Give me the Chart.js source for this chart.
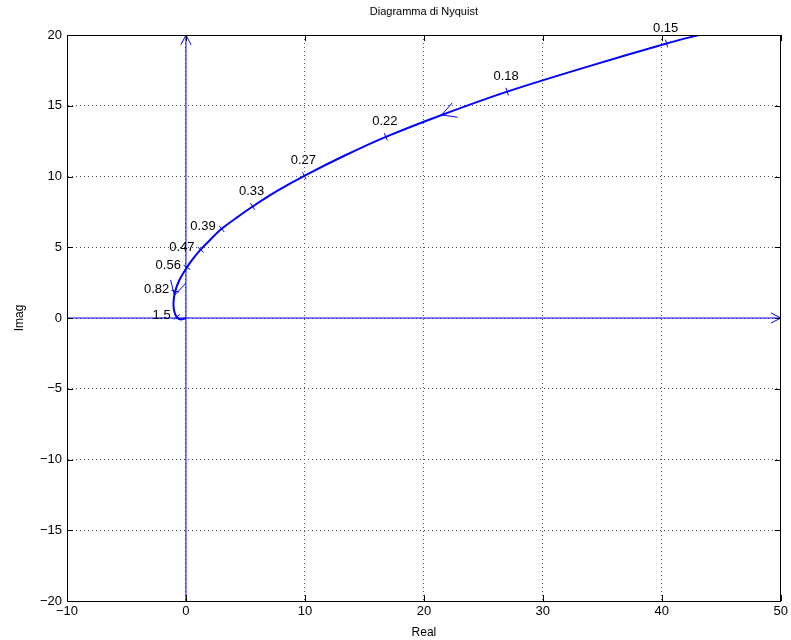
<!DOCTYPE html>
<html>
<head>
<meta charset="utf-8">
<script src="https://cdn.jsdelivr.net/npm/chart.js@4.4.0/dist/chart.umd.min.js"></script>
<style>
    body { margin: 0; background: #fff; }
    #wrap { width: 791px; height: 640px; }
</style>
</head>
<body>
<div id="wrap"><canvas id="nyquistChart"></canvas></div>
<script>
// Curva di Nyquist (da bassa ad alta frequenza)
const curveRe = [43.1, 40.4, 33.7, 27.0, 21.5, 16.8, 13.4, 9.95, 7.6, 5.6, 4.2, 3.0, 2.0, 1.23, 0.6, 0.08, -0.53, -0.9, -1.05, -0.97, -0.78, -0.45, 0];
const curveIm = [20.0, 19.4, 17.75, 16.0, 14.35, 12.8, 11.5, 10.05, 8.95, 7.88, 7.05, 6.3, 5.5, 4.83, 4.2, 3.58, 2.72, 1.9, 1.05, 0.42, 0.07, -0.1, 0];

// frequenze etichettate sulla curva
const freqLabels = ['0.15', '0.18', '0.22', '0.27', '0.33', '0.39', '0.47', '0.56', '0.82', '1.5'];
const freqRe = [40.4, 27.0, 16.8, 9.95, 5.6, 3.0, 1.23, 0.08, -0.9, -0.78];
const freqIm = [19.4, 16.0, 12.8, 10.05, 7.88, 6.3, 4.83, 3.58, 1.9, 0.07];

// frecce di direzione sulla curva
const arrowRe = [21.5, -0.97];
const arrowIm = [14.35, 1.6];

// tacche degli assi
const xTicks = [-10, 0, 10, 20, 30, 40, 50];
const yTicks = [-20, -15, -10, -5, 0, 5, 10, 15, 20];

const FONT = 'Liberation Sans, Arial, sans-serif';
const BLUE = '#0000ff';

const minus = v => String(v).replace('-', '\u2212');

// indice del punto della curva piu vicino
function nearestIndex(re, im) {
    let best = 0, bd = Infinity;
    for (let i = 0; i < curveRe.length; i++) {
        const d = (curveRe[i] - re) ** 2 + (curveIm[i] - im) ** 2;
        if (d < bd) { bd = d; best = i; }
    }
    return best;
}

const decor = {
    id: 'decor',
    afterDatasetsDraw(chart) {
        const { ctx, chartArea: a } = chart;
        const sx = chart.scales.x, sy = chart.scales.y;
        const px = (re, im) => [sx.getPixelForValue(re), sy.getPixelForValue(im)];

        function tangent(re, im) {
            const k = nearestIndex(re, im);
            const i0 = Math.max(0, k - 1), i1 = Math.min(curveRe.length - 1, k + 1);
            const p0 = px(curveRe[i0], curveIm[i0]), p1 = px(curveRe[i1], curveIm[i1]);
            const dx = p1[0] - p0[0], dy = p1[1] - p0[1], l = Math.hypot(dx, dy);
            return [dx / l, dy / l];
        }

        function arrowHead(tx, ty, bx, by, len, half) {
            ctx.beginPath();
            for (const s of [-1, 1]) {
                const c = Math.cos(s * half), n = Math.sin(s * half);
                const rx = bx * c - by * n, ry = bx * n + by * c;
                ctx.moveTo(tx, ty);
                ctx.lineTo(tx + rx * len, ty + ry * len);
            }
            ctx.stroke();
        }

        ctx.save();

        // titolo, centrato sull'area del grafico
        ctx.fillStyle = '#000';
        ctx.font = '11px ' + FONT;
        ctx.textAlign = 'center';
        ctx.textBaseline = 'middle';
        ctx.fillText('Diagramma di Nyquist', (a.left + a.right) / 2, 12);

        // tacche e etichette delle frequenze
        ctx.strokeStyle = BLUE;
        ctx.lineWidth = 1;
        ctx.font = '13px ' + FONT;
        freqLabels.forEach((lab, i) => {
            const [mx, my] = px(freqRe[i], freqIm[i]);
            const [tx, ty] = tangent(freqRe[i], freqIm[i]);
            ctx.beginPath();
            ctx.moveTo(mx - ty * 4, my + tx * 4);
            ctx.lineTo(mx + ty * 4, my - tx * 4);
            ctx.stroke();
            if (Math.abs(ty) < 0.6) {
                // tratto piatto: etichetta sopra
                ctx.textAlign = 'center';
                ctx.fillText(lab, mx - 1, my - 15);
            } else {
                // tratto ripido: etichetta a sinistra
                ctx.textAlign = 'right';
                ctx.fillText(lab, mx - 6, my - 2);
            }
        });

        // frecce sulla curva
        arrowRe.forEach((re, i) => {
            const [tx, ty] = px(re, arrowIm[i]);
            const [dx, dy] = tangent(re, arrowIm[i]);
            arrowHead(tx, ty, -dx, -dy, 16, 0.5);
        });

        // frecce degli assi
        const [ax, ay] = px(xTicks[xTicks.length - 1], 0);
        arrowHead(ax, ay, -1, 0, 11, 0.48);
        const [bx, by] = px(0, yTicks[yTicks.length - 1]);
        arrowHead(bx, by, 0, 1, 11, 0.48);

        // cornice e tacche interne
        ctx.strokeStyle = '#000';
        ctx.lineWidth = 1;
        ctx.strokeRect(Math.round(a.left) + 0.5, Math.round(a.top) + 0.5,
            Math.round(a.right - a.left) - 1, Math.round(a.bottom - a.top));
        ctx.beginPath();
        xTicks.forEach(v => {
            const p = Math.round(sx.getPixelForValue(v)) + 0.5;
            ctx.moveTo(p, a.bottom); ctx.lineTo(p, a.bottom - 6);
            ctx.moveTo(p, a.top); ctx.lineTo(p, a.top + 6);
        });
        yTicks.forEach(v => {
            const p = Math.round(sy.getPixelForValue(v)) + 0.5;
            ctx.moveTo(a.left, p); ctx.lineTo(a.left + 6, p);
            ctx.moveTo(a.right, p); ctx.lineTo(a.right - 6, p);
        });
        ctx.stroke();
        ctx.restore();
    }
};

const gridOpts = { color: '#555', lineWidth: 1, drawTicks: false };

new Chart(document.getElementById('nyquistChart'), {
    type: 'scatter',
    data: {
        datasets: [
            {
                data: curveRe.map((re, i) => ({ x: re, y: curveIm[i] })),
                showLine: true,
                borderColor: BLUE,
                borderWidth: 2,
                pointRadius: 0,
                tension: 0.3
            },
            {
                data: [{ x: xTicks[0], y: 0 }, { x: xTicks[xTicks.length - 1], y: 0 }],
                showLine: true,
                borderColor: BLUE,
                borderWidth: 1,
                pointRadius: 0
            },
            {
                data: [{ x: 0, y: yTicks[0] }, { x: 0, y: yTicks[yTicks.length - 1] }],
                showLine: true,
                borderColor: BLUE,
                borderWidth: 1,
                pointRadius: 0
            }
        ]
    },
    options: {
        responsive: true,
        maintainAspectRatio: false,
        animation: false,
        layout: { padding: { top: 35, right: 8 } },
        scales: {
            x: {
                type: 'linear',
                min: xTicks[0],
                max: xTicks[xTicks.length - 1],
                afterBuildTicks: s => { s.ticks = xTicks.map(v => ({ value: v })); },
                afterFit: s => { s.height = 39; },
                grid: gridOpts,
                border: { display: true, color: '#000', dash: [1, 3] },
                ticks: {
                    color: '#000',
                    padding: 3,
                    maxRotation: 0,
                    font: { family: FONT, size: 13 },
                    callback: minus
                },
                title: {
                    display: true,
                    text: 'Real',
                    color: '#000',
                    padding: 0,
                    font: { family: FONT, size: 12 }
                }
            },
            y: {
                type: 'linear',
                min: yTicks[0],
                max: yTicks[yTicks.length - 1],
                afterBuildTicks: s => { s.ticks = yTicks.map(v => ({ value: v })); },
                afterFit: s => { s.width = 67; },
                grid: gridOpts,
                border: { display: true, color: '#000', dash: [1, 3] },
                ticks: {
                    color: '#000',
                    padding: 5,
                    font: { family: FONT, size: 13 },
                    callback: minus
                },
                title: {
                    display: true,
                    text: 'Imag',
                    color: '#000',
                    padding: { top: 12, bottom: 0 },
                    font: { family: FONT, size: 12 }
                }
            }
        },
        plugins: {
            legend: { display: false },
            tooltip: { enabled: false },
            title: { display: false }
        }
    },
    plugins: [decor]
});
</script>
</body>
</html>
